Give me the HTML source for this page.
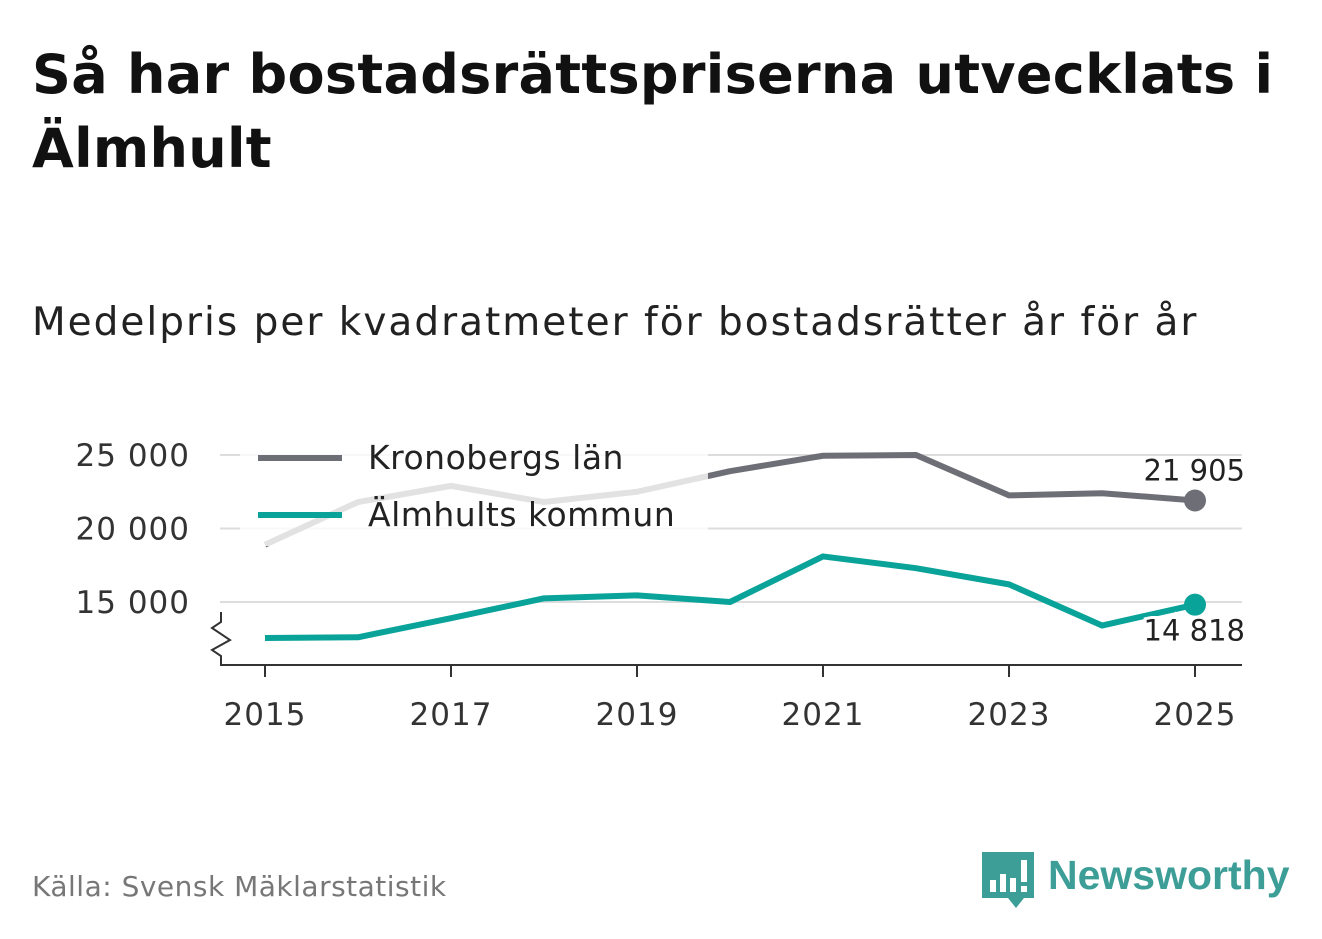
<!DOCTYPE html>
<html><head><meta charset="utf-8"><style>
body{margin:0;width:1322px;height:939px;background:#fff;font-family:"DejaVu Sans","Liberation Sans",sans-serif;overflow:hidden;position:relative}
h1{position:absolute;left:32px;top:38px;margin:0;font-size:54px;line-height:74px;font-weight:bold;color:#111;width:1290px;white-space:nowrap;letter-spacing:0.3px}
.sub{position:absolute;left:32px;top:300px;font-size:39px;letter-spacing:2px;color:#222;white-space:nowrap}
.src{position:absolute;left:32px;top:870px;font-size:28px;letter-spacing:0.5px;color:#777}
</style></head><body>
<h1>Så har bostadsrättspriserna utvecklats i<br>Älmhult</h1>
<div class="sub">Medelpris per kvadratmeter för bostadsrätter år för år</div>
<div class="src">Källa: Svensk Mäklarstatistik</div>
<svg width="1322" height="939" style="position:absolute;left:0;top:0" id="chart" font-family="DejaVu Sans, Liberation Sans, sans-serif"></svg>
<script>
const years=[2015,2016,2017,2018,2019,2020,2021,2022,2023,2024,2025];
const kronoberg=[18900,21800,22900,21800,22500,23900,24950,25000,22250,22400,21905];
const almhult=[12550,12600,13900,15250,15450,15000,18100,17300,16200,13400,14818];
const yTicks=[15000,20000,25000];
const yTickLabels=["15 000","20 000","25 000"];
const xTicks=[2015,2017,2019,2021,2023,2025];
const NS='http://www.w3.org/2000/svg';
const svg=document.getElementById('chart');
const x=v=>265+(v-2015)*93;
const y=v=>602-(v-15000)/5000*73.5;
function mk(t,a,p){const e=document.createElementNS(NS,t);for(const k in a)e.setAttribute(k,a[k]);(p||svg).appendChild(e);return e;}
yTicks.forEach((t,i)=>{
 const g=mk('line',{x1:220,x2:1242,y1:y(t),y2:y(t),stroke:'#ddd','stroke-width':2});
 
 
 const l=mk('text',{x:190,y:y(t)+11,'text-anchor':'end','font-size':31,'letter-spacing':1,fill:'#333'});
 l.textContent=yTickLabels[i];
 
 
});
const ax=mk('line',{x1:220,x2:1242,y1:665,y2:665,stroke:'#333','stroke-width':2});


const br=mk('path',{d:'M221 612 V622 L212 628 L230 640 L212 650 L221 656 V665',fill:'none',stroke:'#333','stroke-width':2});


xTicks.forEach(t=>{
 const tk=mk('line',{x1:x(t),x2:x(t),y1:665,y2:677,stroke:'#333','stroke-width':2});
 
 
 const l=mk('text',{x:x(t),y:725,'text-anchor':'middle','font-size':31,'letter-spacing':1,fill:'#333'});
 l.textContent=t;
 
 
});
function line(d,c,n){
 const p=mk('polyline',{points:d.map((v,i)=>x(years[i])+','+y(v)).join(' '),fill:'none',stroke:c,'stroke-width':6,'stroke-linejoin':'round'});
 
 
 const last=d.length-1;
 const c2=mk('circle',{cx:x(years[last]),cy:y(d[last]),r:11,fill:c});
 
 
}
line(kronoberg,'#6e6e76','kronoberg-line');
line(almhult,'#0aa39a','almhult-line');
const bg=mk('rect',{x:240,y:432,width:468,height:114,fill:'#fff','fill-opacity':0.8});


[['#6e6e76','Kronobergs län',458],['#0aa39a','Älmhults kommun',515]].forEach(([c,t,yy])=>{
 const g=mk('g',{});
 
 
 mk('line',{x1:258,x2:342,y1:yy,y2:yy,stroke:c,'stroke-width':6},g);
 const tx=mk('text',{x:368,y:yy+11,'font-size':33,'letter-spacing':0.5,fill:'#222'},g);tx.textContent=t;
});
const kl=kronoberg.length-1, al=almhult.length-1;
const l1=mk('text',{x:1245,y:y(kronoberg[kl])-20,'text-anchor':'end','font-size':29,fill:'#222'});
l1.textContent='21 905';


const l2=mk('text',{x:1245,y:y(almhult[al])+36,'text-anchor':'end','font-size':29,fill:'#222',stroke:'#fff','stroke-width':6,'paint-order':'stroke'});
l2.textContent='14 818';


</script>
<svg width="330" height="70" style="position:absolute;left:978px;top:848px">
<path d="M4 4 H56 V50 H46 L38 60 L30 50 H4 Z" fill="#3d9e98"/>
<rect x="12" y="32" width="6" height="12" fill="#fff"/><rect x="22" y="26" width="6" height="18" fill="#fff"/><rect x="32" y="30" width="6" height="14" fill="#fff"/><rect x="43" y="12" width="6" height="22" fill="#fff"/><rect x="43" y="38" width="6" height="6" fill="#fff"/>
<text x="70" y="41" font-size="41" font-weight="bold" fill="#3d9e98" font-family="Liberation Sans,sans-serif">Newsworthy</text>
</svg>
</body></html>
